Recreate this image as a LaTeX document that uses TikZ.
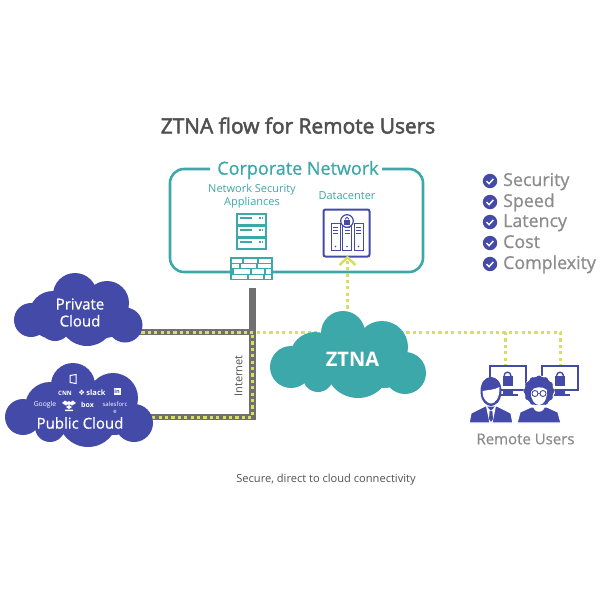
\documentclass[tikz,border=0pt]{standalone}
\usepackage{fontspec}
\setmainfont{Open Sans}
\newfontfamily\heavyfont[FakeBold=2.5]{Open Sans}
\newfontfamily\midfont[FakeBold=0.9]{Open Sans}
\newfontfamily\symbolfont{DejaVu Sans}
\definecolor{teal1}{HTML}{3DA8A9}
\definecolor{indigo1}{HTML}{434AA8}
\definecolor{lime1}{HTML}{D6DF60}
\definecolor{pipegrey}{HTML}{707070}
\definecolor{greytext}{HTML}{8C8C8C}
\definecolor{darktext}{HTML}{505050}
\tikzset{
    cloudtext/.style={text=white, align=center, font=\fontsize{15}{17}\selectfont\midfont},
    logotext/.style={text=white, inner sep=0pt, font=\fontsize{6}{6}\selectfont\bfseries},
    tealtext/.style={text=teal1, align=center, font=\fontsize{11}{12.5}\selectfont},
    checktext/.style={text=greytext, anchor=west, inner sep=0pt, text height=13pt, text depth=4pt, font=\fontsize{17.8}{18}\selectfont\midfont},
    pipeline/.style={draw=pipegrey, line width=6.5pt},
    limeline/.style={draw=lime1, line width=3pt, dash pattern=on 3.2pt off 3.2pt},
}
\newcommand{\padlock}[1]{
    \draw[indigo1, line width=1.4pt] (#1) ++(-3.3,1) -- ++(0,-1.5) arc[start angle=180, end angle=360, radius=3.3] -- ++(0,1.5);
    \fill[indigo1] (#1) ++(-5,0) rectangle ++(10,10);
}
\newcommand{\monitor}[1]{
    \begin{scope}[shift={(#1)}]
        \draw[indigo1, line width=2pt, fill=white] (0,0) rectangle (36,24);
        \fill[indigo1] (13,24) rectangle (23,28);
        \fill[indigo1] (8,27.5) rectangle (28,29.5);
        \padlock{18,10}
    \end{scope}
}
\newcommand{\rackunit}[1]{
    \begin{scope}[shift={(#1)}]
        \draw[indigo1, line width=0.9pt, fill=white] (0,0) rectangle (9,27);
        \foreach \ypos in {4,7,10} {
            \draw[indigo1, line width=0.8pt] (2,\ypos) -- (7,\ypos);
        }
        \fill[indigo1] (4.5,23.5) circle (0.9);
    \end{scope}
}
\begin{document}
\begin{tikzpicture}[x=1pt, y=-1pt]
    \useasboundingbox (0,0) rectangle (600,600);

    \node[text=darktext, font=\fontsize{20.9}{22}\selectfont\heavyfont] (title) at (298,125.5) {ZTNA flow for Remote Users};

    % corporate network box
    \draw[teal1, line width=2.6pt, rounded corners=14pt] (210,169) -- (170,169) -- (170,272) -- (423,272) -- (423,169) -- (382,169);
    \node[text=teal1, font=\fontsize{18}{20}\selectfont\midfont] (corporate) at (298,170) {Corporate Network};
    \node[tealtext] (appliances) at (252,196) {Network Security\\Appliances};
    \node[tealtext] (datacenter) at (347,196) {Datacenter};

    % server stack
    \foreach \ypos in {214,226,238} {
        \begin{scope}[shift={(237,\ypos)}]
            \draw[teal1, line width=1.5pt, fill=white] (0,0) rectangle (29,11);
            \draw[teal1, line width=1.2pt] (3,4) -- (15,4);
            \draw[teal1, line width=1.2pt, dash pattern=on 1.5pt off 1pt] (22,4) -- (27,4);
        \end{scope}
    }

    % firewall
    \begin{scope}[shift={(231,258)}]
        \draw[teal1, line width=1.5pt, fill=white] (0,0) rectangle (41,21.5);
        \draw[teal1, line width=1.2pt] (0,5.4) -- (41,5.4) (0,10.8) -- (41,10.8) (0,16.2) -- (41,16.2);
        \draw[teal1, line width=1.2pt] (12,0) -- (12,5.4) (27,0) -- (27,5.4) (9,5.4) -- (9,10.8) (26,5.4) -- (26,10.8)
            (2,10.8) -- (2,16.2) (20,10.8) -- (20,16.2) (34,10.8) -- (34,16.2)
            (17,16.2) -- (17,21.5) (33,16.2) -- (33,21.5);
    \end{scope}

    % datacenter
    \draw[indigo1, line width=2pt, rounded corners=2pt] (323.5,209.5) rectangle (369.5,256.5);
    \rackunit{331,223}
    \rackunit{342.5,223}
    \rackunit{354,223}
    \draw[indigo1, line width=1.2pt, fill=white] (347,221) circle (6.3);
    \draw[indigo1, line width=0.8pt] (345.2,219.5) -- ++(0,-0.5) arc[start angle=180, end angle=360, radius=1.8] -- ++(0,0.5);
    \fill[indigo1] (344,219.5) rectangle (350,224.5);

    % connectors
    \coordinate (pipetop) at (252.5,288);
    \coordinate (pipemid) at (252.5,332);
    \coordinate (pipelow) at (252.5,417);
    \coordinate (privateend) at (135,332);
    \coordinate (publicend) at (145,417);
    \coordinate (ztnaleft) at (320,332);
    \coordinate (ztnaright) at (400,332);
    \coordinate (ztnatop) at (347,315);
    \coordinate (dcarrow) at (347,259);
    \coordinate (userleft) at (505,332);
    \coordinate (userright) at (560,332);
    \coordinate (monleft) at (505,365);
    \coordinate (monright) at (560,365);

    \draw[pipeline] (pipetop) -- (pipemid);
    \draw[pipeline, line join=miter] (privateend) -- (pipemid) -- (pipelow) -- (publicend);
    \draw[limeline] (privateend) -- (ztnaleft);
    \draw[limeline] (pipemid) ++(0,3) -- (pipelow) -- (publicend);
    \draw[limeline] (ztnatop) -- (dcarrow);
    \draw[lime1, line width=2.5pt] (339.5,265) -- (347.5,257.5) -- (355.5,265);
    \draw[limeline] (ztnaright) -- (userright) -- (monright);
    \draw[limeline] (userleft) -- (monleft);

    % private cloud
    \fill[indigo1] (31,320) circle (17) (53,315) circle (24) (75,295) circle (22) (107,303) circle (22)
        (125,325) circle (17.5) (87,318) circle (28) (55,325) circle (16) (105,318) circle (20);
    \node[cloudtext] (privatecloud) at (80,312.5) {Private\\Cloud};

    % public cloud
    \fill[indigo1] (23,417) circle (18) (50,407) circle (25) (73,385) circle (22) (113,398) circle (25)
        (134,423) circle (19) (88,417) circle (30) (50,427) circle (15) (115,415) circle (20);
    \node[cloudtext] (publiccloud) at (80,423) {Public Cloud};
    \node[logotext] (cnn) at (65,393.5) {CNN};
    \node[logotext, font=\fontsize{7.5}{8}\selectfont\bfseries] (slack) at (92,393) {{\symbolfont ❖}\,slack};
    \node[logotext, font=\fontsize{6.8}{7}\selectfont] (google) at (45,405) {Google};
    \node[logotext, font=\fontsize{7}{8}\selectfont\bfseries] (box) at (87.5,405) {box};
    \node[logotext, align=center, font=\fontsize{6}{6.5}\selectfont] (salesforce) at (115,407.5) {salesforc\\e};
    \draw[white, line width=1pt] (70,375.5) -- (76,374.5) -- (76,383.5) -- (70,382.5) -- cycle;
    \fill[white] (113.5,388) rectangle (120.5,394.5);
    \node[text=indigo1, inner sep=0pt, font=\fontsize{5.5}{6}\selectfont\bfseries] (linkedin) at (117,391.2) {in};
    \fill[white] (69,401) -- (72,403) -- (69,405) -- (66,403) -- cycle (69,405) -- (72,407) -- (69,409) -- (66,407) -- cycle (65,409.5) rectangle (73,411);
    \fill[white] (65,400.5) -- (69,403) -- (73,400.5) -- (76,403) -- (72,405.5) -- (69,403.5) -- (66,405.5) -- (62,403) -- cycle;

    % ztna cloud
    \fill[teal1] (291,367) circle (21) (315,357) circle (25) (343,333) circle (22) (382,347) circle (26)
        (405,373) circle (21) (358,365) circle (33) (318,377) circle (15) (385,370) circle (18);
    \node[text=white, font=\fontsize{20}{22}\selectfont\bfseries] (ztna) at (352.5,359) {ZTNA};

    % check list
    \foreach \ypos/\checkname/\checklabel in {181/secure/Security, 202/speed/Speed, 222/latency/Latency, 243/cost/Cost, 264/complex/Complexity} {
        \fill[indigo1] (490,\ypos) circle (7.2);
        \draw[white, line width=1.5pt] (486.5,\ypos) ++(0,0.2) -- ++(2.6,2.4) -- ++(4.2,-4.6);
        \node[checktext] (\checkname) at (503,{\ypos+0.5}) {\checklabel};
    }

    % remote users
    \monitor{489.5,366}
    \monitor{542,366}
    \begin{scope}[shift={(491,0)}]
        \draw[white, line width=1.2pt, fill=indigo1] (-22,423) -- (-20,413) -- (-6,406) -- (6,406) -- (20,413) -- (22,423) -- cycle;
        \fill[indigo1] (-10.5,392) .. controls (-11,372) and (11,372) .. (10.5,392) .. controls (10,402) and (4,406) .. (0,406) .. controls (-4,406) and (-10,402) .. (-10.5,392) -- cycle;
        \fill[white] (-8.5,391) .. controls (-4,390) and (4,390) .. (8.5,387) .. controls (9,398) and (4,403.5) .. (0,403.5) .. controls (-4,403.5) and (-9,398) .. (-8.5,391) -- cycle;
        \fill[white] (-5,405.5) -- (0,411) -- (5,405.5) -- (5,406) -- (1.5,423) -- (-1.5,423) -- (-5,406) -- cycle;
        \fill[indigo1] (-1.4,411) -- (1.4,411) -- (2,419) -- (0,422) -- (-2,419) -- cycle;
    \end{scope}
    \begin{scope}[shift={(539,0)}]
        \draw[white, line width=1.2pt, fill=indigo1] (-22,423) -- (-19,412) -- (-8,407) -- (8,407) -- (19,412) -- (22,423) -- cycle;
        \draw[white, line width=1pt, fill=indigo1] (0,391) circle (15);
        \foreach \angle in {0,30,...,330} {
            \fill[indigo1] (\angle:12.5) ++(0,391) circle (3);
        }
        \fill[white] (-8,392) .. controls (-6,386) and (4,386) .. (8,390) .. controls (8.5,400) and (4,405) .. (0,405) .. controls (-4,405) and (-8.5,400) .. (-8,392) -- cycle;
        \fill[white] (-6,405) .. controls (-6,414) and (6,414) .. (6,405) -- cycle;
        \draw[indigo1, line width=0.9pt] (-4,393.5) circle (3) (4,393.5) circle (3) (-1,393.5) -- (1,393.5);
    \end{scope}
    \node[text=greytext, font=\fontsize{15}{16}\selectfont\midfont] (remoteusers) at (525.5,439) {Remote Users};

    \node[text=darktext, rotate=90, font=\fontsize{11}{12}\selectfont] (internet) at (238.5,376) {Internet};
    \node[text=darktext, font=\fontsize{11.1}{12}\selectfont] (caption) at (326,479.5) {Secure, direct to cloud connectivity};
\end{tikzpicture}
\end{document}
